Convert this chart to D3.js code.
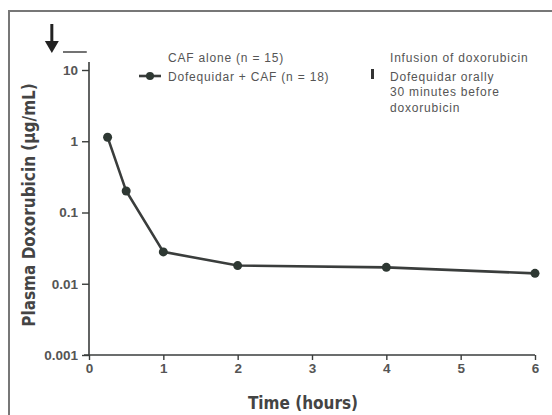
<!DOCTYPE html>
<html><head><meta charset="utf-8">
<script src="https://cdn.jsdelivr.net/npm/d3@7"></script>
<style>
html,body{margin:0;padding:0;background:#fff;}
svg{display:block;}
text{font-family:"Liberation Sans",Arial,sans-serif;}
.ttl{font-family:"DejaVu Sans Condensed","Liberation Sans",sans-serif;font-weight:bold;font-stretch:condensed;}
</style></head><body>
<script>
const times = [0.25, 0.5, 1, 2, 4, 6];
const conc = [1.14, 0.2, 0.028, 0.018, 0.017, 0.014];
const xTicks = [0, 1, 2, 3, 4, 5, 6];
const yTicks = [0.001, 0.01, 0.1, 1, 10];
const yTickLabels = ["0.001", "0.01", "0.1", "1", "10"];
const dofequidarTime = -0.5;
const infusion = [-0.35, -0.03];
const legendLeft = ["CAF alone (n = 15)", "Dofequidar + CAF (n = 18)"];
const legendRight = ["Infusion of doxorubicin", "Dofequidar orally", "30 minutes before", "doxorubicin"];

const W = 552, H = 415;
const svg = d3.select("body").append("svg").attr("width", W).attr("height", H);
const ink = "#3a3d3c", txt = "#555";

// outer frame
svg.append("path").attr("d", `M9,${H} V11 H${W}`).attr("fill", "none").attr("stroke", "#777").attr("stroke-width", 2);

const x = d3.scaleLinear().domain([0, 6]).range([89, 535]);
const y = d3.scaleLog().domain([0.001, 10]).range([355, 70]);

const tickFont = sel => sel.attr("fill", txt).attr("font-size", 13.5).attr("font-weight", "bold")
  .attr("font-family", "Liberation Sans, Arial, sans-serif");

// y axis
const ya = svg.append("g").attr("transform", `translate(${x(0)},0)`)
  .call(d3.axisLeft(y).tickValues(yTicks).tickFormat((d, i) => yTickLabels[i]).tickSize(7).tickPadding(4));
ya.select(".domain").remove();
ya.append("line").attr("x1", 0).attr("x2", 0).attr("y1", 62).attr("y2", y(0.001)).attr("stroke", ink).attr("stroke-width", 1.6);
ya.selectAll(".tick line").attr("stroke", ink).attr("stroke-width", 1.4);
ya.selectAll(".tick text").call(tickFont);

// x axis
const xa = svg.append("g").attr("transform", `translate(0,${y(0.001)})`)
  .call(d3.axisBottom(x).tickValues(xTicks).tickFormat(d3.format("d")).tickSize(5).tickPadding(3));
xa.select(".domain").remove();
xa.append("line").attr("x1", x(0) - 5).attr("x2", x(6)).attr("y1", 0).attr("y2", 0).attr("stroke", ink).attr("stroke-width", 1.6);
xa.selectAll(".tick line").attr("stroke", ink).attr("stroke-width", 1.4);
xa.selectAll(".tick text").call(tickFont);

// axis titles
svg.append("text").attr("class", "ttl").attr("x", 303).attr("y", 409).attr("text-anchor", "middle")
  .attr("font-size", 17).attr("fill", "#444").text("Time (hours)");
svg.append("text").attr("class", "ttl").attr("transform", `translate(35,205) rotate(-90)`).attr("text-anchor", "middle")
  .attr("font-size", 17).attr("fill", "#444").text("Plasma Doxorubicin (µg/mL)");

// data line and points
const pts = times.map((t, i) => [t, conc[i]]);
svg.append("path").datum(pts).attr("fill", "none").attr("stroke", ink).attr("stroke-width", 2.6)
  .attr("d", d3.line().x(d => x(d[0])).y(d => y(d[1])));
svg.selectAll("circle.pt").data(pts).join("circle").attr("class", "pt")
  .attr("cx", d => x(d[0])).attr("cy", d => y(d[1])).attr("r", 4.5).attr("fill", "#2e3833");

// dosing markers: arrow and infusion line
const ax = x(dofequidarTime), aTop = 24, aTip = 53;
svg.append("line").attr("x1", ax).attr("x2", ax).attr("y1", aTop).attr("y2", aTip - 10).attr("stroke", "#222").attr("stroke-width", 3);
svg.append("path").attr("d", `M${ax - 7},${aTip - 12} L${ax + 7},${aTip - 12} L${ax},${aTip} Z`).attr("fill", "#222");
svg.append("line").attr("x1", x(infusion[0])).attr("x2", x(infusion[1])).attr("y1", 52).attr("y2", 52).attr("stroke", "#444").attr("stroke-width", 1.5);

const legText = (xx, yy, s) => svg.append("text").attr("x", xx).attr("y", yy).attr("font-size", 12)
  .attr("letter-spacing", 0.8).attr("fill", txt).text(s);

// legend left
legText(168, 62, legendLeft[0]);
svg.append("line").attr("x1", 139).attr("x2", 161).attr("y1", 76).attr("y2", 76).attr("stroke", ink).attr("stroke-width", 2.6);
svg.append("circle").attr("cx", 150).attr("cy", 76).attr("r", 4).attr("fill", "#2e3833");
legText(168, 81, legendLeft[1]);

// legend right
legText(390, 62, legendRight[0]);
svg.append("rect").attr("x", 371).attr("y", 69).attr("width", 3).attr("height", 10).attr("fill", "#333");
[81, 96, 112].forEach((yy, i) => legText(390, yy, legendRight[i + 1]));
</script>
</body></html>
